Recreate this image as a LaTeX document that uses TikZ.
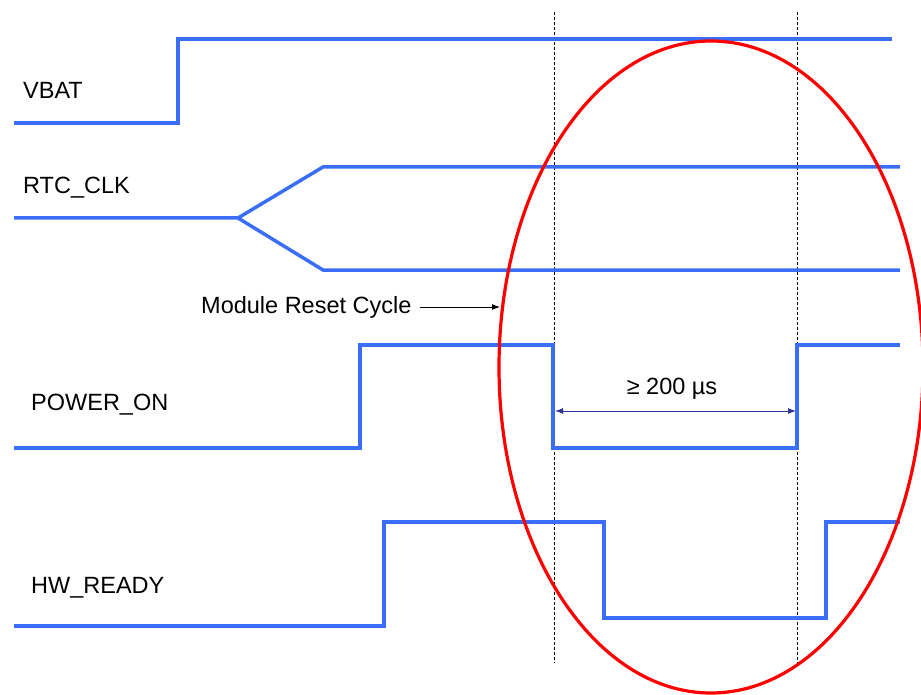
\documentclass[tikz,border=0pt]{standalone}
\usepackage{fontspec}
\setmainfont{Liberation Sans}
\usetikzlibrary{arrows.meta}
\definecolor{sigblue}{RGB}{59,110,246}
\definecolor{dimblue}{RGB}{51,51,153}
\tikzset{
  sig/.style={draw=sigblue, line width=3.5pt, line join=miter},
  guide/.style={draw=black, line width=0.8pt, dash pattern=on 3pt off 2pt},
  lbl/.style={anchor=base west, inner sep=0pt, font=\fontsize{23.5}{28}\selectfont},
  dim/.style={draw=dimblue, line width=1pt, {Latex[length=8pt,width=6pt]}-{Latex[length=8pt,width=6pt]}},
  pointer/.style={draw=black, line width=1pt, -{Latex[length=8pt,width=6pt]}},
  ring/.style={draw=red, line width=3.2pt}
}
\begin{document}
\begin{tikzpicture}[x=1pt,y=-1pt]
\useasboundingbox (0,0) rectangle (921,695);
% guides
\coordinate (g1t) at (554,12); \coordinate (g1b) at (554,663);
\coordinate (g2t) at (797,12); \coordinate (g2b) at (797,663);
\draw[guide] (g1t) -- (g1b);
\draw[guide] (g2t) -- (g2b);
% VBAT
\node[lbl] (vbat) at (23,99) {VBAT};
\draw[sig] (14,123) -- (178,123) -- (178,39) -- (892,39);
% RTC_CLK
\node[lbl] (rtc) at (23,194) {RTC\_CLK};
\draw[sig] (14,218) -- (238,218) -- (323,167) -- (900,167);
\draw[sig] (238,218) -- (323,270) -- (900,270);
% POWER_ON
\node[lbl] (pon) at (31,410) {POWER\_ON};
\draw[sig] (14,448) -- (360,448) -- (360,345) -- (553,345) -- (553,448) -- (797,448) -- (797,345) -- (900,345);
% HW_READY
\node[lbl] (hwr) at (31,593) {HW\_READY};
\draw[sig] (14,626) -- (384,626) -- (384,522) -- (604,522) -- (604,618) -- (826,618) -- (826,522) -- (900,522);
% dimension
\coordinate (d1) at (555,411); \coordinate (d2) at (796,411);
\draw[dim] (d1) -- (d2);
\node[lbl, anchor=base] (dimtxt) at (672,394) {≥ 200 µs};
% ellipse
\draw[ring] (711,367) ellipse [x radius=212, y radius=326];
% module reset cycle
\node[lbl] (mrc) at (201,313) {Module Reset Cycle};
\coordinate (mrcend) at (500,307);
\draw[pointer] (420,307) -- (mrcend);
\end{tikzpicture}
\end{document}
